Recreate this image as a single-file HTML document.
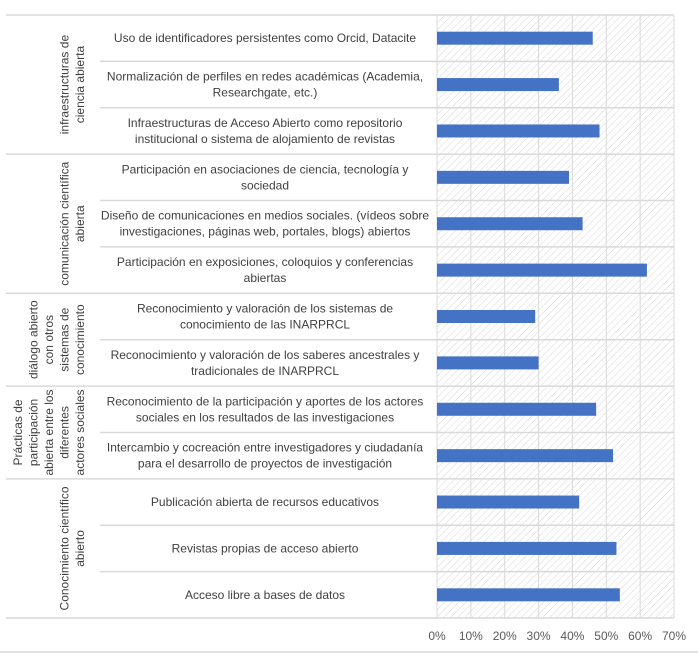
<!DOCTYPE html>
<html><head><meta charset="utf-8"><style>
html,body{margin:0;padding:0;background:#fff;}
svg{display:block;font-family:"Liberation Sans",sans-serif;}
</style></head><body>
<svg id="chart" width="698" height="657" viewBox="0 0 698 657">
<defs>
<pattern id="hatch" patternUnits="userSpaceOnUse" width="5" height="5" patternTransform="rotate(45)">
<line x1="0" y1="0" x2="0" y2="5" stroke="#d6d6d6" stroke-width="1"/>
</pattern>
</defs>
<rect x="437" y="15" width="237" height="603" fill="url(#hatch)"/>
<g id="grid"></g><g id="bars"></g><g id="labels"></g><g id="groups"></g><g id="xticks"></g>
<line x1="0" y1="652" x2="698" y2="652" stroke="#e0e0e0" stroke-width="2"/>
</svg>
<script>
const categories = [
["Uso de identificadores persistentes como Orcid, Datacite"],
["Normalización de perfiles en redes académicas (Academia,","Researchgate, etc.)"],
["Infraestructuras de Acceso Abierto como repositorio","institucional o sistema de alojamiento de revistas"],
["Participación en asociaciones de ciencia, tecnología y","sociedad"],
["Diseño de comunicaciones en medios sociales. (vídeos sobre","investigaciones, páginas web, portales, blogs) abiertos"],
["Participación en exposiciones, coloquios y conferencias","abiertas"],
["Reconocimiento y valoración de los sistemas de","conocimiento de las INARPRCL"],
["Reconocimiento y valoración de los saberes ancestrales y","tradicionales de INARPRCL"],
["Reconocimiento de la participación y aportes de los actores","sociales en los resultados de las investigaciones"],
["Intercambio y cocreación entre investigadores y ciudadanía","para el desarrollo de proyectos de investigación"],
["Publicación abierta de recursos educativos"],
["Revistas propias de acceso abierto"],
["Acceso libre a bases de datos"]
];
const values = [46,36,48,39,43,62,29,30,47,52,42,53,54];
const groupNames = [
["infraestructuras de","ciencia abierta"],
["comunicación científica","abierta"],
["diálogo abierto","con otros","sistemas de","conocimiento"],
["Prácticas de","participación","abierta entre los","diferentes","actores sociales"],
["Conocimiento científico","abierto"]
];
const groupSizes = [3,3,2,2,3];
const tickLabels = ["0%","10%","20%","30%","40%","50%","60%","70%"];
const tickValues = [0,10,20,30,40,50,60,70];

const NS="http://www.w3.org/2000/svg";
const X0=437,X1=674,XMAX=70,Y0=15,Y1=618;
const rowH=(Y1-Y0)/categories.length;
const xs=v=>X0+(v/XMAX)*(X1-X0);
const ys=i=>Y0+i*rowH;
function mk(tag,attrs,parent){const e=document.createElementNS(NS,tag);for(const k in attrs)e.setAttribute(k,attrs[k]);parent.appendChild(e);return e;}
const grid=document.getElementById('grid'),bars=document.getElementById('bars'),labels=document.getElementById('labels'),groups=document.getElementById('groups'),xt=document.getElementById('xticks');
tickValues.forEach((t,i)=>{
  const l=mk('line',{x1:xs(t),x2:xs(t),y1:Y0,y2:Y1,stroke:'#d9d9d9','stroke-width':1},grid);
  
  
  const tx=mk('text',{x:xs(t),y:640,'text-anchor':'middle','font-size':12,fill:'#595959'},xt);
  tx.textContent=tickLabels[i];
  
  
});
const boundaries=new Set([0]);let acc=0;groupSizes.forEach(s=>{acc+=s;boundaries.add(acc);});
for(let i=0;i<=categories.length;i++){
  const y=ys(i);
  const l=mk('line',{x1:boundaries.has(i)?6:100,x2:X1,y1:y,y2:y,stroke:'#d9d9d9','stroke-width':1.5},grid);
  
  
}
values.forEach((v,i)=>{
  const cy=ys(i)+rowH/2;
  const r=mk('rect',{x:X0,y:cy-6.5,width:xs(v)-X0,height:13,fill:'#4472c4'},bars);
  
  
  const lines=categories[i];
  const t=mk('text',{'text-anchor':'middle','font-size':12,fill:'#404040'},labels);
  
  
  lines.forEach((s,j)=>{const ts=mk('tspan',{x:265,y:cy+4+(j-(lines.length-1)/2)*16},t);ts.textContent=s;});
});
let start=0;
groupNames.forEach((g,gi)=>{
  const cy=(ys(start)+ys(start+groupSizes[gi]))/2;
  start+=groupSizes[gi];
  const t=mk('text',{'text-anchor':'middle','font-size':12,fill:'#404040',transform:`translate(0,${cy}) rotate(-90)`},groups);
  
  
  const last=80;
  g.forEach((s,j)=>{const ts=mk('tspan',{x:0,y:last+4-(g.length-1-j)*15.5},t);ts.textContent=s;});
});
</script>
</body></html>
